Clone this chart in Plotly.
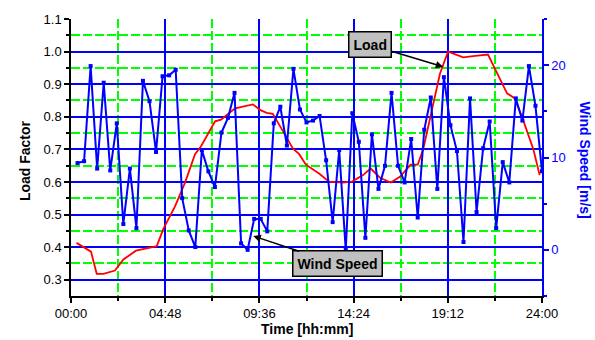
import plotly.graph_objects as go

# ---------------- data ----------------
# wind speed sampled every 20 minutes (hours)
wind_time = [i * 20 / 60 for i in range(1, 73)]
wind_speed = [9.4, 9.6, 19.9, 8.8, 18.1, 8.6, 13.7, 2.8, 8.8, 2.35,
              18.3, 16.1, 10.6, 18.8, 18.9, 19.5, 5.6, 2.1, 0.3, 10.8,
              8.5, 6.8, 12.7, 14.3, 17.0, 0.7, 0.0, 3.35, 3.35, 2.0,
              13.7, 15.5, 11.3, 19.6, 15.2, 13.8, 14.0, 14.5, 9.7, 3.0,
              10.8, 0.0, 14.8, 11.7, 1.3, 12.5, 6.6, 9.1, 17.0, 9.1,
              7.3, 12.0, 3.5, 13.0, 16.5, 6.6, 18.7, 13.5, 10.7, 0.85,
              16.4, 4.1, 11.0, 13.9, 2.35, 9.5, 7.3, 16.4, 14.0, 19.9,
              15.6, 8.5]

load_time = [0.28, 1.02, 1.31, 1.65, 2.24, 2.67, 3.31, 4.37, 4.70, 5.30,
             5.81, 6.32, 6.62, 7.34, 7.64, 8.36, 9.27, 9.63, 9.97, 10.28,
             10.74, 11.31, 11.62, 11.97, 12.64, 13.15, 13.84, 14.32, 14.88, 15.27,
             15.75, 16.29, 16.76, 17.31, 17.67, 17.95, 18.38, 18.80, 19.21, 19.99,
             20.60, 21.25, 21.58, 22.22, 22.60, 22.98, 23.56, 23.88]
load_factor = [0.413, 0.386, 0.318, 0.318, 0.328, 0.362, 0.389, 0.403, 0.455, 0.525,
               0.598, 0.685, 0.709, 0.786, 0.791, 0.826, 0.838, 0.821, 0.812, 0.809,
               0.762, 0.702, 0.686, 0.653, 0.626, 0.601, 0.598, 0.601, 0.621, 0.641,
               0.613, 0.598, 0.616, 0.653, 0.653, 0.701, 0.818, 0.932, 1.0, 0.982,
               0.987, 0.991, 0.950, 0.872, 0.857, 0.800, 0.700, 0.621]

x_tick_vals = [0, 4.8, 9.6, 14.4, 19.2, 24]
x_tick_text = ["00:00", "04:48", "09:36", "14:24", "19:12", "24:00"]
x_minor_vals = [2.4, 7.2, 12.0, 16.8, 21.6]

y_tick_vals = [0.3, 0.4, 0.5, 0.6, 0.7, 0.8, 0.9, 1.0, 1.1]
y_tick_text = ["0.3", "0.4", "0.5", "0.6", "0.7", "0.8", "0.9", "1.0", "1.1"]
y_minor_vals = [0.35, 0.45, 0.55, 0.65, 0.75, 0.85, 0.95, 1.05]

y2_tick_vals = [0, 10, 20]
y2_tick_text = ["0", "10", "20"]
y2_minor_vals = [-5, 5, 15, 25]

# ---------------- figure ----------------
FONT = "Liberation Sans, Arial, sans-serif"
BLUE = "#0000ff"
GREEN = "#00ff00"
GDASH = "9px,3px"

fig = go.Figure()
fig.add_trace(go.Scatter(x=load_time, y=load_factor, mode="lines",
                         line=dict(color="#ff0000", width=1.8),
                         yaxis="y", hoverinfo="skip"))
fig.add_trace(go.Scatter(x=wind_time, y=wind_speed, mode="lines+markers",
                         line=dict(color=BLUE, width=2),
                         marker=dict(symbol="square", size=4, color=BLUE),
                         yaxis="y2", hoverinfo="skip"))

fig.update_layout(
    width=595, height=340,
    margin=dict(l=71, r=53, t=14, b=44),
    paper_bgcolor="white", plot_bgcolor="white",
    showlegend=False,
    font=dict(family=FONT, size=13, color="black"),
    xaxis=dict(range=[0, 24], tickvals=x_tick_vals, ticktext=x_tick_text,
               showline=True, linecolor="black", linewidth=1.5,
               ticks="outside", ticklen=5, tickwidth=1.5, tickcolor="black",
               showgrid=True, gridcolor=BLUE, gridwidth=1.5, zeroline=False,
               tickfont=dict(family=FONT, size=13, color="black"),
               minor=dict(tickvals=x_minor_vals, ticks="outside", ticklen=3,
                          tickcolor="black", tickwidth=1.5, showgrid=True,
                          gridcolor=GREEN, griddash=GDASH, gridwidth=1.5)),
    xaxis2=dict(range=[0, 24], overlaying="x", side="top", anchor="y",
                tickvals=x_tick_vals + x_minor_vals, showticklabels=False,
                showline=True, linecolor="black", linewidth=1.5,
                ticks="inside", ticklen=4, tickwidth=1.5, tickcolor="black",
                showgrid=False, zeroline=False),
    yaxis=dict(range=[0.25, 1.1], tickvals=y_tick_vals, ticktext=y_tick_text,
               showline=True, linecolor="black", linewidth=1.5,
               ticks="outside", ticklen=5, tickwidth=1.5, tickcolor="black",
               showgrid=True, gridcolor=BLUE, gridwidth=1.5, zeroline=False,
               tickfont=dict(family=FONT, size=13, color="black"),
               minor=dict(tickvals=y_minor_vals, ticks="outside", ticklen=3,
                          tickcolor="black", tickwidth=1.5, showgrid=True,
                          gridcolor=GREEN, griddash=GDASH, gridwidth=1.5)),
    yaxis2=dict(range=[-5, 25], overlaying="y", side="right", anchor="x",
                tickvals=y2_tick_vals, ticktext=y2_tick_text,
                showline=True, linecolor=BLUE, linewidth=1.5,
                ticks="outside", ticklen=5, tickwidth=1.5, tickcolor=BLUE,
                showgrid=False, zeroline=False,
                tickfont=dict(family=FONT, size=13, color=BLUE),
                minor=dict(tickvals=y2_minor_vals, ticks="outside", ticklen=3,
                           tickcolor=BLUE, tickwidth=1.5)),
)

# axis titles
fig.add_annotation(text="<b>Load Factor</b>", xref="paper", yref="paper",
                   x=-0.098, y=0.49, textangle=-90, showarrow=False,
                   xanchor="center", yanchor="middle",
                   font=dict(family=FONT, size=14, color="black"))
fig.add_annotation(text="<b>Wind Speed [m/s]</b>", xref="paper", yref="paper",
                   x=1.091, y=0.49, textangle=90, showarrow=False,
                   xanchor="center", yanchor="middle",
                   font=dict(family=FONT, size=14, color=BLUE))
fig.add_annotation(text="<b>Time [hh:mm]</b>", xref="paper", yref="paper",
                   x=0.5, y=-0.12, showarrow=False,
                   xanchor="center", yanchor="middle",
                   font=dict(family=FONT, size=14, color="black"))

# callouts
fig.add_annotation(text="<b>Load</b>", xref="x", yref="y", x=18.97, y=0.953,
                   ax=-73, ay=-22, showarrow=True, arrowhead=2, arrowsize=1,
                   arrowwidth=1.5, arrowcolor="black",
                   bgcolor="#c0c0c0", bordercolor="black", borderwidth=1.5,
                   borderpad=4, font=dict(family=FONT, size=14, color="black"))
fig.add_annotation(text="<b>Wind Speed</b>", xref="x", yref="y2", x=9.29, y=1.5,
                   ax=84, ay=28, showarrow=True, arrowhead=2, arrowsize=1,
                   arrowwidth=1.5, arrowcolor="black",
                   bgcolor="#c0c0c0", bordercolor="black", borderwidth=1.5,
                   borderpad=4, font=dict(family=FONT, size=14, color="black"))

fig.write_html("out.html",
               config={"displayModeBar": False},
               post_script="document.body.style.margin='0';"
                           "document.body.style.padding='0';")
